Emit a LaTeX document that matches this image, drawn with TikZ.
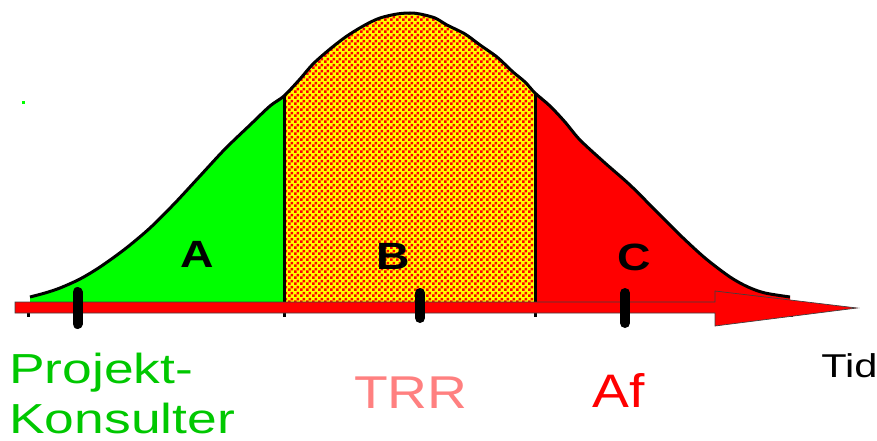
\documentclass[tikz,border=0pt]{standalone}
\usepackage{fontspec}
\setmainfont{Liberation Sans}
\usetikzlibrary{patterns.meta}
\definecolor{fieldgreen}{HTML}{00FF00}
\definecolor{textgreen}{HTML}{00C800}
\definecolor{alarmred}{HTML}{FF0000}
\definecolor{checkyellow}{HTML}{FFFF00}
\definecolor{trrpink}{HTML}{FF8080}
\tikzdeclarepattern{
  name=trrchecker,
  type=uncolored,
  bounding box={(0pt,0pt) and (6pt,6pt)},
  tile size={(6pt,6pt)},
  code={\fill (0pt,0pt) rectangle (3pt,3pt); \fill (3pt,3pt) rectangle (6pt,6pt);}
}
\newcommand{\bellline}{plot[smooth] coordinates {(30,297) (45,293) (60,288) (80,279) (100,267) (125,249) (150,228) (175,203) (200,176) (225,149) (250,125) (270,106) (284,96) (300,79) (313,64) (330,49) (347,36) (365,25) (380,18) (397,14) (410,13) (420,14) (435,18) (447,25) (465,34) (480,45) (497,57) (513,72) (525,82) (535,93) (550,106) (565,122) (580,140) (605,163) (630,185) (655,210) (680,235) (705,258) (730,277) (748,287) (765,293) (790,297)}}
\newcommand{\bellarea}{\bellline -- (790,302) -- (30,302) -- cycle}
\tikzset{
  outline/.style={draw=black, line width=3pt, line join=round},
  divider/.style={draw=black, line width=3pt},
  timebar/.style={fill=alarmred, draw=black!75, line width=0.7pt},
  milestone/.style={draw=black, line width=10pt, line cap=round},
  smalltick/.style={draw=black, line width=3pt},
  zonelabel/.style={font=\bfseries\fontsize{38}{38}\selectfont, xscale=1.22, anchor=base, inner sep=0pt},
  biglabel/.style={font=\fontsize{42}{50}\selectfont, xscale=1.2, anchor=base west, inner sep=0pt, align=left},
}
\begin{document}
\begin{tikzpicture}[x=1pt, y=-1pt]
  \useasboundingbox (0,0) rectangle (877,441);

  % zones under the bell curve
  \begin{scope}
    \clip (0,0) rectangle (284,302);
    \fill[fieldgreen] \bellarea;
  \end{scope}
  \begin{scope}
    \clip (284,0) rectangle (535,302);
    \fill[checkyellow] \bellarea;
    \fill[pattern=trrchecker, pattern color=alarmred] \bellarea;
  \end{scope}
  \begin{scope}
    \clip (535,0) rectangle (800,302);
    \fill[alarmred] \bellarea;
  \end{scope}

  % zone borders and curve
  \begin{scope}
    \clip \bellarea;
    \draw[divider] (284,0) -- (284,302);
    \draw[divider] (535,0) -- (535,302);
  \end{scope}
  \draw[outline] \bellline;

  % time axis
  \foreach \tx in {28, 284, 535, 791}
    \draw[smalltick] (\tx,310) -- (\tx,317);
  \filldraw[timebar] (15,302) -- (715,302) -- (715,291) -- (857,308)
    -- (715,326) -- (715,313) -- (15,313) -- cycle;
  \draw[milestone] (77.5,292) -- (77.5,324);
  \draw[milestone] (420,293) -- (420,318);
  \draw[milestone] (625,293) -- (625,323);

  % stray dot
  \fill[fieldgreen] (21.5,101.5) rectangle (24.5,104.5);

  % zone letters
  \node[zonelabel] (zoneA) at (197,267) {A};
  \node[zonelabel] (zoneB) at (393,269) {B};
  \node[zonelabel] (zoneC) at (634,270) {C};

  % captions
  \node[biglabel, text=textgreen, xscale=1.06] (consult) at (9,433) {Projekt-\\Konsulter};
  \node[biglabel, text=trrpink, font=\fontsize{46}{50}\selectfont] (trr) at (354,408) {TRR};
  \node[biglabel, text=alarmred, font=\fontsize{47}{50}\selectfont, xscale=0.98] (af) at (592,407) {Af};
  \node[biglabel, font=\fontsize{33}{40}\selectfont, xscale=1.05] (tid) at (821,377) {Tid};
\end{tikzpicture}
\end{document}
